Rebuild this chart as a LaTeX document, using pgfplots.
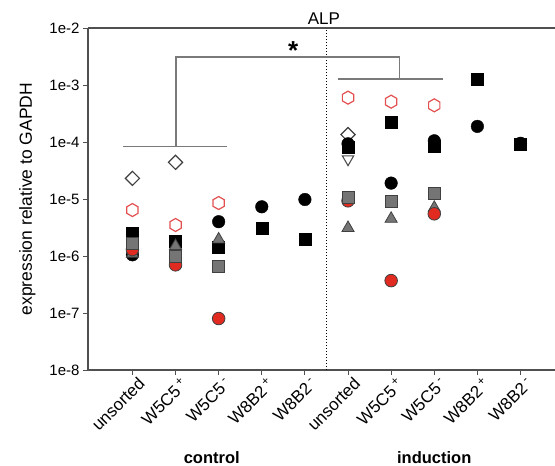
\documentclass[border=0pt]{standalone}
\usepackage{pgfplots}
\pgfplotsset{compat=1.18}
\usepackage{fontspec}
\setmainfont{Liberation Sans}

\definecolor{axgray}{HTML}{505050}
\definecolor{brgray}{HTML}{7A7A7A}
\definecolor{mgray}{HTML}{757575}
\definecolor{medge}{HTML}{404040}
\definecolor{mred}{HTML}{E12A20}
\definecolor{hexred}{HTML}{E35050}

\pgfdeclareplotmark{hexagon}{%
  \pgfpathmoveto{\pgfpointpolar{90}{\pgfplotmarksize}}%
  \pgfpathlineto{\pgfpointpolar{150}{\pgfplotmarksize}}%
  \pgfpathlineto{\pgfpointpolar{210}{\pgfplotmarksize}}%
  \pgfpathlineto{\pgfpointpolar{270}{\pgfplotmarksize}}%
  \pgfpathlineto{\pgfpointpolar{330}{\pgfplotmarksize}}%
  \pgfpathlineto{\pgfpointpolar{30}{\pgfplotmarksize}}%
  \pgfpathclose
  \pgfusepathqfillstroke
}

\begin{document}
\begin{tikzpicture}
\begin{axis}[
  scale only axis, width=467pt, height=342pt,
  xmin=-1.03, xmax=9.8, ymin=1e-8, ymax=1e-2, ymode=log,
  axis x line*=bottom, axis y line*=left,
  axis line style={axgray, line width=1.1pt},
  ytick={1e-8,1e-7,1e-6,1e-5,1e-4,1e-3,1e-2},
  yticklabels={1e-8,1e-7,1e-6,1e-5,1e-4,1e-3,1e-2},
  yminorticks=false,
  xtick={0,1,2,3,4,5,6,7,8,9},
  xticklabels={unsorted, W5C5\,\textsuperscript{+}, W5C5\,\textsuperscript{-}, W8B2\,\textsuperscript{+}, W8B2\,\textsuperscript{-},
               unsorted, W5C5\,\textsuperscript{+}, W5C5\,\textsuperscript{-}, W8B2\,\textsuperscript{+}, W8B2\,\textsuperscript{-}},
  tick align=outside, major tick length=5pt,
  tick style={axgray, line width=1pt},
  yticklabel style={font=\fontsize{15}{15}\selectfont, text=black},
  xticklabel style={font=\fontsize{17}{17}\selectfont, text=black, rotate=45, anchor=east, inner sep=1pt, xshift=3.5pt, yshift=-10.5pt},
  clip=false,
]
\coordinate (ax0) at (rel axis cs:0,0);
\coordinate (ax1) at (rel axis cs:1,1);
\coordinate (ym) at (rel axis cs:0,0.5);

% top line
\draw[axgray, line width=1.1pt] (rel axis cs:0,1) -- (rel axis cs:1,1);

% dotted separator
\addplot[black, line width=1.4pt, dash pattern=on 1.4pt off 1.6pt] coordinates {(4.5,1e-8) (4.5,1e-2)};

% significance brackets
\addplot[brgray, line width=1.5pt] coordinates {(-0.22,8.3e-5) (2.19,8.3e-5)};
\addplot[brgray, line width=1.5pt] coordinates {(1.01,8.3e-5) (1.01,3.12e-3) (6.19,3.12e-3) (6.19,1.27e-3)};
\addplot[brgray, line width=1.5pt] coordinates {(4.77,1.27e-3) (7.21,1.27e-3)};

% open red hexagons
\addplot[only marks, mark=hexagon, mark size=6.5pt, mark options={draw=hexred, fill=white, line width=1.2pt}]
  coordinates {(0,6.4e-6) (1,3.5e-6) (2,8.5e-6) (5,6.0e-4) (6,5.1e-4) (7,4.4e-4)};
% open diamonds
\addplot[only marks, mark=square*, mark size=5pt, mark options={rotate=45, draw=medge, fill=white, line width=1.2pt}]
  coordinates {(0,2.3e-5) (1,4.4e-5) (5,1.35e-4)};
% open down triangle
\addplot[only marks, mark=triangle*, mark size=6.5pt, mark options={rotate=180, draw=axgray, fill=white, line width=1.1pt}]
  coordinates {(5,5.0e-5)};
% black squares
\addplot[only marks, mark=square*, mark size=6pt, mark options={draw=black, fill=black}]
  coordinates {(0,2.5e-6) (1,1.8e-6) (2,1.45e-6) (3,3.1e-6) (4,1.95e-6) (5,8.0e-5) (6,2.25e-4) (7,8.3e-5) (8,1.25e-3) (9,9.2e-5)};
% black circles
\addplot[only marks, mark=*, mark size=6.3pt, mark options={draw=black, fill=black}]
  coordinates {(0,1.05e-6) (1,1.2e-6) (2,4.0e-6) (3,7.3e-6) (4,9.8e-6) (5,9.3e-5) (6,1.9e-5) (7,1.05e-4) (8,1.88e-4) (9,9.5e-5)};
% gray triangles
\addplot[only marks, mark=triangle*, mark size=7pt, mark options={draw=medge, fill=mgray, line width=0.8pt}]
  coordinates {(0,1.1e-6) (1,1.5e-6) (2,1.95e-6) (5,3.1e-6) (6,4.5e-6) (7,7.0e-6)};
% red circles
\addplot[only marks, mark=*, mark size=6.3pt, mark options={draw=medge, fill=mred, line width=0.8pt}]
  coordinates {(0,1.3e-6) (1,7.0e-7) (2,8.0e-8) (5,9.3e-6) (6,3.7e-7) (7,5.5e-6)};
% gray squares
\addplot[only marks, mark=square*, mark size=6pt, mark options={draw=medge, fill=mgray, line width=0.8pt}]
  coordinates {(0,1.65e-6) (1,1.0e-6) (2,6.5e-7) (5,1.05e-5) (6,9.0e-6) (7,1.25e-5)};

% texts
\node[font=\fontsize{26}{26}\selectfont\bfseries, anchor=base] at (axis cs:3.73,2.75e-3) {*};
\node[font=\fontsize{17}{17}\selectfont, anchor=base] at ([yshift=4pt]axis cs:4.44,1e-2) {ALP};
\node[font=\fontsize{16.5}{16.5}\selectfont\bfseries] at ([yshift=-88pt]axis cs:1.84,1e-8) {control};
\node[font=\fontsize{16.5}{16.5}\selectfont\bfseries] at ([yshift=-88pt]axis cs:7.0,1e-8) {induction};
\end{axis}
\node[rotate=90, anchor=base, font=\fontsize{17.5}{17.5}\selectfont] at ([xshift=-56pt]ym) {expression relative to GAPDH};
\pgfresetboundingbox
\path ([xshift=-88pt,yshift=-96pt]ax0) rectangle ([yshift=28pt]ax1);
\end{tikzpicture}
\end{document}
